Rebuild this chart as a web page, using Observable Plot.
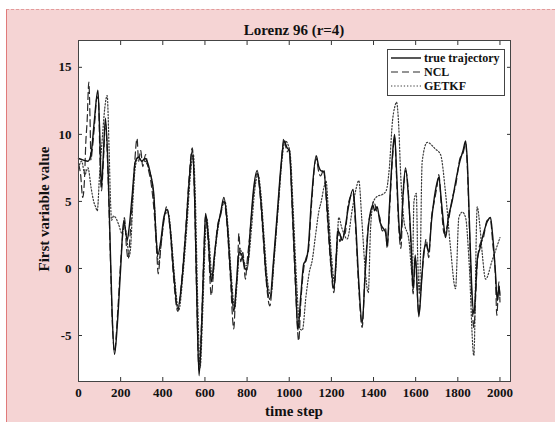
<!DOCTYPE html>
<html>
<head>
<meta charset="utf-8">
<script src="https://cdn.jsdelivr.net/npm/d3@7"></script>
<script src="https://cdn.jsdelivr.net/npm/@observablehq/plot@0.6"></script>
<style>
  body { margin: 0; background: #ffffff; }
  #wrap { position: relative; width: 555px; height: 422px; overflow: hidden; font-family: "Liberation Serif", "Times New Roman", serif; font-weight: bold; color: #111; }
  #bg { position: absolute; left: 6px; top: 9px; right: 0; bottom: 0; background: #f5d4d4; border-left: 1px solid #e07a7a; border-top: 1px dashed #e39a9a; }
  #chart { position: absolute; left: 0; top: 0; }
  .lbl { position: absolute; white-space: nowrap; line-height: 1; }
  #title { left: 294px; top: 30px; transform: translate(-50%, -50%); font-size: 15px; }
  #xlabel { left: 294px; top: 411px; transform: translate(-50%, -50%); font-size: 15px; }
  #ylabel { left: 44px; top: 209px; transform: translate(-50%, -50%) rotate(-90deg); font-size: 15px; }
  #legend { position: absolute; left: 387px; top: 49px; }
</style>
</head>
<body>
<div id="wrap">
  <div id="bg"></div>
  <div id="chart"></div>
  <div class="lbl" id="title">Lorenz 96 (r=4)</div>
  <div class="lbl" id="xlabel">time step</div>
  <div class="lbl" id="ylabel">First variable value</div>
  <div id="legend"></div>
</div>
<script>
// ---- data: [time step, value] ----
const trueTrajectory = [[0,8.2],[20,8.1],[45,8.0],[60,8.6],[75,11.0],[92,13.3],[100,10.5],[109,6.1],[118,8.5],[128,11.2],[140,7.5],[150,2.0],[160,-3.5],[171,-6.4],[185,-4.0],[200,0.0],[215,3.6],[231,2.1],[240,3.0],[255,5.5],[270,8.0],[285,8.3],[300,8.0],[315,8.2],[330,7.8],[342,7.0],[357,5.6],[368,2.5],[376,1.0],[390,2.0],[405,3.8],[421,4.4],[435,3.0],[450,0.0],[471,-3.0],[490,-1.0],[510,3.0],[525,6.5],[540,8.8],[550,6.0],[560,-1.0],[572,-8.0],[585,-4.0],[595,1.0],[603,4.1],[615,2.5],[630,-1.0],[645,1.0],[660,3.0],[675,4.2],[690,5.3],[705,3.5],[720,0.0],[737,-3.2],[750,-1.0],[761,1.2],[775,1.0],[790,0.0],[800,-0.1],[816,3.1],[830,5.8],[848,7.3],[860,6.0],[875,3.0],[890,-0.5],[908,-2.3],[925,0.5],[945,4.5],[960,7.5],[975,9.5],[990,9.0],[1000,8.8],[1015,4.5],[1030,-1.0],[1041,-4.6],[1055,-2.0],[1069,0.35],[1080,0.6],[1090,1.5],[1105,5.0],[1128,8.4],[1140,7.6],[1149,7.3],[1164,7.2],[1180,4.5],[1195,1.0],[1212,-1.5],[1222,0.5],[1231,2.8],[1240,2.6],[1251,2.1],[1265,3.0],[1280,4.5],[1303,5.9],[1315,3.5],[1330,-1.0],[1346,-4.1],[1360,-0.5],[1375,3.0],[1390,4.5],[1398,4.7],[1405,4.3],[1417,4.6],[1430,3.5],[1441,3.1],[1457,2.7],[1465,1.7],[1475,4.5],[1490,8.5],[1500,10.0],[1510,7.0],[1520,3.5],[1528,2.1],[1540,5.5],[1552,7.5],[1565,5.5],[1578,2.0],[1588,-1.6],[1598,1.0],[1615,-3.6],[1628,-1.0],[1639,1.3],[1650,1.8],[1662,1.2],[1675,3.5],[1686,5.0],[1700,6.3],[1710,6.8],[1722,5.0],[1735,3.0],[1742,2.3],[1755,3.8],[1773,5.0],[1790,6.5],[1810,8.0],[1825,8.8],[1837,9.5],[1845,8.0],[1855,3.5],[1865,-1.0],[1876,-3.4],[1885,-1.5],[1892,0.6],[1905,1.5],[1920,2.5],[1940,3.5],[1955,3.8],[1965,2.5],[1979,-0.4],[1987,-2.4],[1995,-1.4],[2000,-2.0]];

const nclEstimate = [[0,7.8],[10,7.0],[20,5.3],[28,6.5],[35,9.5],[41,11.0],[49,13.9],[55,11.0],[59,8.1],[65,8.8],[75,10.5],[88,12.8],[95,12.5],[102,8.0],[109,5.8],[118,8.0],[128,10.8],[140,7.0],[150,1.5],[160,-3.8],[171,-6.2],[185,-3.5],[200,0.5],[210,2.5],[218,3.8],[228,1.5],[236,0.7],[245,2.5],[255,5.0],[265,7.5],[278,9.7],[285,8.0],[295,8.8],[305,7.6],[318,8.5],[330,7.5],[345,6.3],[360,4.0],[372,1.0],[378,-0.4],[390,1.5],[405,3.5],[418,4.6],[435,2.8],[450,-0.5],[471,-3.2],[490,-0.8],[510,3.2],[525,6.8],[540,9.0],[550,5.5],[560,-1.5],[572,-7.6],[585,-3.5],[595,1.2],[603,3.9],[615,2.0],[630,-2.0],[645,0.8],[660,3.2],[675,4.0],[690,5.0],[705,3.2],[720,-0.5],[737,-4.5],[745,-2.0],[755,0.0],[761,2.6],[770,0.5],[780,1.2],[792,-0.8],[800,0.5],[816,3.0],[830,5.5],[848,7.1],[860,5.8],[875,2.6],[890,-0.8],[908,-2.8],[925,0.2],[945,4.2],[960,7.3],[975,9.7],[990,8.7],[1000,8.9],[1015,4.0],[1030,-1.5],[1045,-5.4],[1055,-2.5],[1069,0.0],[1080,0.8],[1090,1.2],[1105,4.6],[1128,8.2],[1140,7.2],[1149,6.9],[1164,7.4],[1180,4.0],[1195,0.6],[1212,-1.8],[1222,0.8],[1231,3.0],[1240,2.0],[1251,2.5],[1265,2.6],[1280,4.8],[1303,5.6],[1315,3.0],[1330,-1.5],[1346,-4.4],[1360,-0.2],[1375,3.2],[1390,4.3],[1400,5.0],[1417,4.2],[1430,3.8],[1441,2.8],[1457,3.0],[1465,1.5],[1475,4.0],[1490,8.2],[1500,9.8],[1510,6.5],[1520,3.0],[1530,1.5],[1540,5.2],[1552,7.3],[1565,5.8],[1578,1.5],[1588,-1.9],[1598,0.8],[1615,-3.4],[1628,-0.8],[1639,1.0],[1650,2.2],[1662,0.8],[1675,3.8],[1686,4.8],[1700,6.0],[1710,7.0],[1722,4.6],[1735,2.6],[1742,2.8],[1755,3.5],[1773,5.2],[1790,6.2],[1810,8.2],[1825,8.6],[1837,9.3],[1845,7.6],[1855,3.0],[1865,-1.6],[1876,-4.4],[1885,-2.0],[1892,0.3],[1905,1.8],[1920,2.2],[1940,3.6],[1955,3.6],[1965,2.0],[1979,-0.8],[1985,-3.5],[1995,-1.0],[2000,-2.5]];

const getkfEstimate = [[0,7.5],[15,8.0],[30,7.0],[45,7.5],[60,6.0],[72,5.0],[81,4.6],[89,4.3],[100,7.0],[112,9.5],[125,12.0],[136,12.9],[145,9.0],[152,5.0],[157,3.6],[166,3.9],[176,3.8],[190,3.3],[207,2.6],[218,3.2],[231,2.0],[240,0.9],[247,1.5],[258,5.0],[270,7.6],[285,8.3],[300,8.0],[315,8.0],[330,7.6],[345,6.8],[360,4.8],[372,1.5],[380,0.3],[392,1.8],[410,4.0],[425,4.2],[440,2.4],[455,-0.5],[476,-3.1],[495,-0.6],[515,3.3],[530,6.8],[545,8.5],[555,5.0],[565,-2.0],[577,-7.4],[590,-3.0],[600,1.5],[608,3.8],[620,2.0],[635,-0.8],[650,1.5],[665,3.3],[680,4.5],[695,5.0],[710,3.0],[725,-0.5],[741,-3.0],[755,-0.5],[765,1.5],[780,0.8],[795,0.2],[805,0.5],[822,3.2],[836,5.8],[852,7.0],[866,5.5],[880,2.5],[896,-0.8],[913,-2.0],[930,1.0],[950,5.0],[965,8.0],[982,9.5],[995,9.2],[1005,8.5],[1020,4.0],[1035,-1.0],[1050,-4.5],[1062,-4.6],[1080,-2.0],[1095,-0.3],[1109,0.6],[1125,2.5],[1141,4.3],[1152,5.0],[1164,6.0],[1175,6.5],[1185,4.5],[1200,1.0],[1215,-1.0],[1225,1.0],[1235,3.8],[1250,3.0],[1275,2.2],[1300,4.5],[1318,6.0],[1330,6.56],[1345,3.5],[1360,0.0],[1375,-1.8],[1386,3.0],[1400,5.0],[1420,5.4],[1440,5.5],[1460,5.8],[1475,7.5],[1490,11.0],[1500,12.0],[1509,12.4],[1520,10.5],[1528,7.3],[1544,3.6],[1568,2.1],[1584,-0.4],[1592,5.0],[1603,5.6],[1610,0.6],[1618,-1.9],[1631,8.0],[1655,9.4],[1694,8.9],[1718,8.5],[1742,5.6],[1765,1.6],[1789,-1.5],[1805,3.8],[1821,4.2],[1837,3.8],[1853,0.6],[1876,-6.5],[1892,4.6],[1905,3.1],[1916,1.1],[1932,-0.8],[1963,0.6],[2000,2.3]];

const xTicks = [0, 200, 400, 600, 800, 1000, 1200, 1400, 1600, 1800, 2000];
const yTicks = [-5, 0, 5, 10, 15];
const seriesNames = ["true trajectory", "NCL", "GETKF"];

// ---- build ----
const toRows = (arr) => arr.map(([t, v]) => ({t, v}));
const rowsTrue = toRows(trueTrajectory);
const rowsNCL = toRows(nclEstimate);
const rowsGETKF = toRows(getkfEstimate);

const styles = {
  "true trajectory": {stroke: "#111", strokeWidth: 1.4, dash: null},
  "NCL": {stroke: "#2a2a2a", strokeWidth: 1.2, dash: "7,4"},
  "GETKF": {stroke: "#3a3a3a", strokeWidth: 1.2, dash: "1.3,1.9"}
};

const font = "Liberation Serif, Times New Roman, serif";
const fmt = (d) => String(d);

const chart = Plot.plot({
  width: 555,
  height: 422,
  marginLeft: 78,
  marginRight: 45,
  marginTop: 40,
  marginBottom: 41,
  style: {background: "transparent", fontFamily: font, fontSize: "13px", fontWeight: "bold", color: "#111"},
  x: {domain: [0, 2050]},
  y: {domain: [-8.43, 17]},
  marks: [
    Plot.frame({fill: "white"}),
    Plot.line(rowsGETKF, {x: "t", y: "v", curve: "monotone-x", stroke: styles.GETKF.stroke, strokeWidth: styles.GETKF.strokeWidth, strokeDasharray: styles.GETKF.dash}),
    Plot.line(rowsNCL, {x: "t", y: "v", curve: "monotone-x", stroke: styles.NCL.stroke, strokeWidth: styles.NCL.strokeWidth, strokeDasharray: styles.NCL.dash}),
    Plot.line(rowsTrue, {x: "t", y: "v", curve: "monotone-x", stroke: styles["true trajectory"].stroke, strokeWidth: styles["true trajectory"].strokeWidth}),
    // inward ticks on all four sides
    Plot.axisX({ticks: xTicks, anchor: "bottom", tickSize: -4, text: null, label: null, stroke: "#333"}),
    Plot.axisX({ticks: xTicks, anchor: "top", tickSize: -4, text: null, label: null, stroke: "#333"}),
    Plot.axisY({ticks: yTicks, anchor: "left", tickSize: -4, text: null, label: null, stroke: "#333"}),
    Plot.axisY({ticks: yTicks, anchor: "right", tickSize: -4, text: null, label: null, stroke: "#333"}),
    // tick labels
    Plot.axisX({ticks: xTicks, anchor: "bottom", tickSize: 0, tickPadding: 6, tickFormat: fmt, label: null, fill: "#111"}),
    Plot.axisY({ticks: yTicks, anchor: "left", tickSize: 0, tickPadding: 7, tickFormat: fmt, label: null, fill: "#111"}),
    Plot.frame({stroke: "#444", strokeWidth: 1})
  ]
});
document.getElementById("chart").appendChild(chart);

// ---- legend ----
const lw = 118, lh = 47;
const ns = "http://www.w3.org/2000/svg";
const leg = document.createElementNS(ns, "svg");
leg.setAttribute("width", lw);
leg.setAttribute("height", lh);
const box = document.createElementNS(ns, "rect");
box.setAttribute("x", 0.5); box.setAttribute("y", 0.5);
box.setAttribute("width", lw - 1); box.setAttribute("height", lh - 1);
box.setAttribute("fill", "white"); box.setAttribute("stroke", "#444");
leg.appendChild(box);
seriesNames.forEach((name, i) => {
  const yy = 9 + i * 14;
  const s = styles[name];
  const ln = document.createElementNS(ns, "line");
  ln.setAttribute("x1", 4); ln.setAttribute("x2", 34);
  ln.setAttribute("y1", yy); ln.setAttribute("y2", yy);
  ln.setAttribute("stroke", s.stroke);
  ln.setAttribute("stroke-width", s.strokeWidth);
  if (s.dash) ln.setAttribute("stroke-dasharray", s.dash);
  leg.appendChild(ln);
  const tx = document.createElementNS(ns, "text");
  tx.setAttribute("x", 37); tx.setAttribute("y", yy);
  tx.setAttribute("dy", "0.35em");
  tx.setAttribute("font-family", font);
  tx.setAttribute("font-weight", "bold");
  tx.setAttribute("font-size", "12");
  tx.setAttribute("fill", "#111");
  tx.textContent = name;
  leg.appendChild(tx);
});
document.getElementById("legend").appendChild(leg);
</script>
</body>
</html>
